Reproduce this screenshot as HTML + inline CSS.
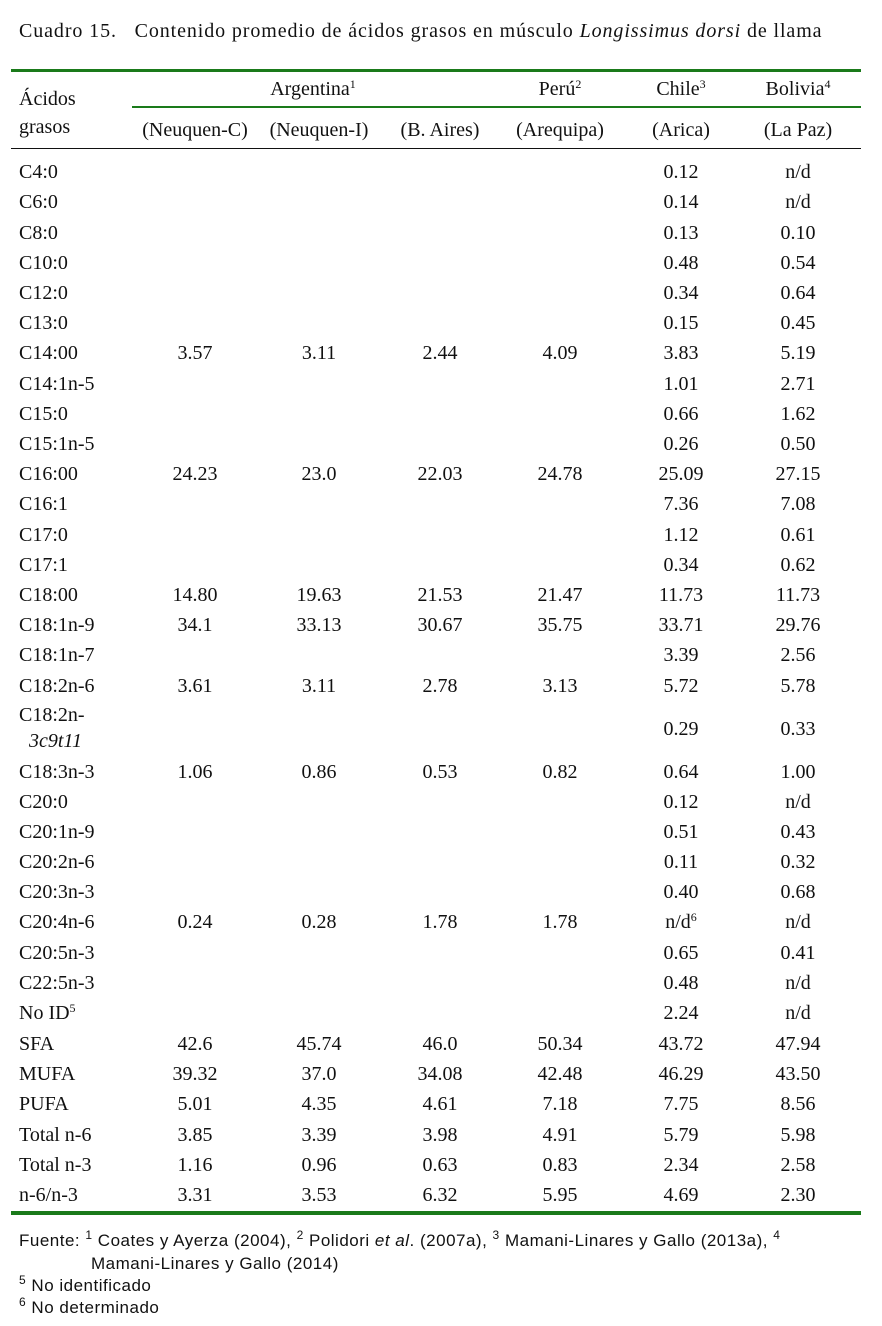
<!DOCTYPE html>
<html><head><meta charset="utf-8"><style>
body{margin:0;width:882px;height:1326px;background:#fff;position:relative;font-family:"Liberation Serif",serif;font-size:20px;color:#111;overflow:hidden}
.t{position:absolute;white-space:nowrap;line-height:22px}
.c{position:absolute;white-space:nowrap;line-height:22px;transform:translateX(-50%)}
.s{font-family:"Liberation Sans",sans-serif;font-size:17px;letter-spacing:0.5px;position:absolute;white-space:nowrap;line-height:20px}
sup{font-size:12px;vertical-align:7px;line-height:0}
.ln{position:absolute;left:11px;width:850px}
</style></head><body>
<div class="t" style="left:19px;top:20px;font-size:20px;letter-spacing:0.9px">Cuadro 15.&nbsp;&nbsp; Contenido promedio de ácidos grasos en músculo <i>Longissimus dorsi</i> de llama</div>
<div class="ln" style="top:69px;height:3px;background:#1a7a1a"></div>
<div class="t" style="left:19px;top:88px">Ácidos</div>
<div class="t" style="left:19px;top:116px">grasos</div>
<div class="c" style="left:313px;top:78px">Argentina<sup>1</sup></div>
<div class="c" style="left:560px;top:78px">Perú<sup>2</sup></div>
<div class="c" style="left:681px;top:78px">Chile<sup>3</sup></div>
<div class="c" style="left:798px;top:78px">Bolivia<sup>4</sup></div>
<div style="position:absolute;left:132px;width:729px;top:106px;height:2px;background:#1a7a1a"></div>
<div class="c" style="left:195px;top:119px">(Neuquen-C)</div>
<div class="c" style="left:319px;top:119px">(Neuquen-I)</div>
<div class="c" style="left:440px;top:119px">(B. Aires)</div>
<div class="c" style="left:560px;top:119px">(Arequipa)</div>
<div class="c" style="left:681px;top:119px">(Arica)</div>
<div class="c" style="left:798px;top:119px">(La Paz)</div>
<div class="ln" style="top:148px;height:1px;background:#111"></div>
<div id="rows"></div>
<div class="ln" style="top:1211px;height:4px;background:#1a7a1a"></div>
<div class="s" style="left:19px;top:1231px">Fuente: <sup>1</sup> Coates y Ayerza (2004), <sup>2</sup> Polidori <i>et al</i>. (2007a), <sup>3</sup> Mamani-Linares y Gallo (2013a), <sup>4</sup></div>
<div class="s" style="left:91px;top:1254px">Mamani-Linares y Gallo (2014)</div>
<div class="s" style="left:19px;top:1276px"><sup>5</sup> No identificado</div>
<div class="s" style="left:19px;top:1298px"><sup>6</sup> No determinado</div>
<script>
var R=[["C4:0",171,"","","","","0.12","n/d"],["C6:0",201,"","","","","0.14","n/d"],["C8:0",232,"","","","","0.13","0.10"],["C10:0",262,"","","","","0.48","0.54"],["C12:0",292,"","","","","0.34","0.64"],["C13:0",322,"","","","","0.15","0.45"],["C14:00",352,"3.57","3.11","2.44","4.09","3.83","5.19"],["C14:1n-5",383,"","","","","1.01","2.71"],["C15:0",413,"","","","","0.66","1.62"],["C15:1n-5",443,"","","","","0.26","0.50"],["C16:00",473,"24.23","23.0","22.03","24.78","25.09","27.15"],["C16:1",503,"","","","","7.36","7.08"],["C17:0",534,"","","","","1.12","0.61"],["C17:1",564,"","","","","0.34","0.62"],["C18:00",594,"14.80","19.63","21.53","21.47","11.73","11.73"],["C18:1n-9",624,"34.1","33.13","30.67","35.75","33.71","29.76"],["C18:1n-7",654,"","","","","3.39","2.56"],["C18:2n-6",685,"3.61","3.11","2.78","3.13","5.72","5.78"],["C18:2n-<br>&nbsp;&nbsp;<i>3c9t11</i>",714,"","","","","0.29","0.33",728],["C18:3n-3",771,"1.06","0.86","0.53","0.82","0.64","1.00"],["C20:0",801,"","","","","0.12","n/d"],["C20:1n-9",831,"","","","","0.51","0.43"],["C20:2n-6",861,"","","","","0.11","0.32"],["C20:3n-3",891,"","","","","0.40","0.68"],["C20:4n-6",921,"0.24","0.28","1.78","1.78","n/d<sup>6</sup>","n/d"],["C20:5n-3",952,"","","","","0.65","0.41"],["C22:5n-3",982,"","","","","0.48","n/d"],["No ID<sup>5</sup>",1012,"","","","","2.24","n/d"],["SFA",1043,"42.6","45.74","46.0","50.34","43.72","47.94"],["MUFA",1073,"39.32","37.0","34.08","42.48","46.29","43.50"],["PUFA",1103,"5.01","4.35","4.61","7.18","7.75","8.56"],["Total n-6",1134,"3.85","3.39","3.98","4.91","5.79","5.98"],["Total n-3",1164,"1.16","0.96","0.63","0.83","2.34","2.58"],["n-6/n-3",1194,"3.31","3.53","6.32","5.95","4.69","2.30"]];
var X=[195,319,440,560,681,798],h="";
R.forEach(function(r){var y=r[1]-10,vy=(r[8]||r[1])-10;
h+='<div class="t" style="left:19px;top:'+y+'px;line-height:26px;margin-top:-2px">'+r[0]+'</div>';
for(var i=0;i<6;i++)if(r[2+i])h+='<div class="c" style="left:'+X[i]+'px;top:'+vy+'px">'+r[2+i]+'</div>';});
document.getElementById("rows").innerHTML=h;
</script>
</body></html>
